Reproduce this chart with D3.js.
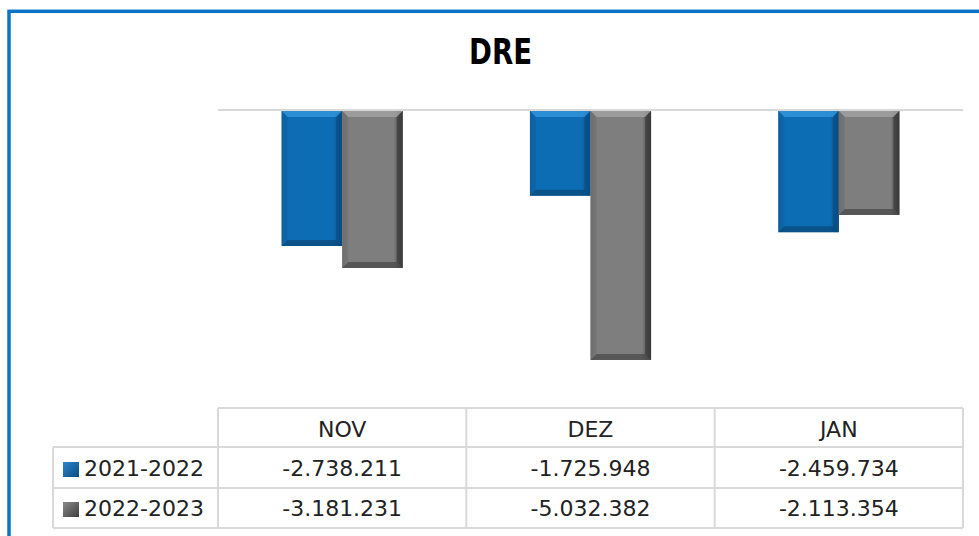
<!DOCTYPE html>
<html>
<head>
<meta charset="utf-8">
<script src="https://cdn.jsdelivr.net/npm/d3@7"></script>
<style>
  html, body { margin: 0; padding: 0; background: #fff; }
  svg { display: block; }
</style>
</head>
<body>
<svg id="chart" width="979" height="536"></svg>
<script>
const categories = ["NOV", "DEZ", "JAN"];
const seriesNames = ["2021-2022", "2022-2023"];
const values2021 = [-2738211, -1725948, -2459734];
const values2022 = [-3181231, -5032382, -2113354];
const yDomain = [-6000000, 0];
const title = "DRE";

const seriesValues = [values2021, values2022];

const svg = d3.select("#chart");
const W = 979, H = 536;

// outer border
svg.append("rect")
  .attr("x", 9).attr("y", 11.3)
  .attr("width", W + 20).attr("height", H + 20)
  .attr("fill", "#fff")
  .attr("stroke", "#0A74C6").attr("stroke-width", 3.5);

// title
svg.append("text")
  .attr("x", 500.5).attr("y", 64)
  .attr("text-anchor", "middle")
  .attr("font-family", "'DejaVu Sans', sans-serif")
  .attr("font-weight", "bold")
  .attr("font-size", 36)
  .attr("textLength", 63)
  .attr("lengthAdjust", "spacingAndGlyphs")
  .attr("fill", "#000")
  .text(title);

const plotLeft = 218, plotRight = 963, plotTop = 110, plotBottom = 408;

const xCol = d3.scaleBand().domain(categories).range([plotLeft, plotRight]).padding(0);
const x1 = d3.scaleBand().domain(seriesNames).range([0, xCol.bandwidth()]).paddingInner(0).paddingOuter(1.05);
const y = d3.scaleLinear().domain(yDomain).range([plotBottom, plotTop]);

// gradients
const defs = svg.append("defs");
const palettes = [
  { main: "#0D6DB4", left: "#0B609F", right: "#0A4C82", top: "#3597DE", bottom: "#0A4A7C", legend: ["#2A86CC", "#0A4C82"] },
  { main: "#7E7E7E", left: "#6E6E6E", right: "#3A3A3A", top: "#A4A4A4", bottom: "#4A4A4A", legend: ["#8A8A8A", "#3E3E3E"] }
];
palettes.forEach((p, i) => {
  const g = defs.append("linearGradient").attr("id", "grad" + i)
    .attr("x1", "0").attr("x2", "1").attr("y1", "0").attr("y2", "0");
  g.append("stop").attr("offset", "0").attr("stop-color", p.left);
  g.append("stop").attr("offset", "0.1").attr("stop-color", p.main);
  g.append("stop").attr("offset", "0.85").attr("stop-color", p.main);
  g.append("stop").attr("offset", "1").attr("stop-color", p.right);
  const lg = defs.append("linearGradient").attr("id", "leg" + i)
    .attr("x1", "0").attr("x2", "1").attr("y1", "0").attr("y2", "1");
  lg.append("stop").attr("offset", "0").attr("stop-color", p.legend[0]);
  lg.append("stop").attr("offset", "1").attr("stop-color", p.legend[1]);
});

// zero gridline
svg.append("line")
  .attr("x1", plotLeft).attr("x2", plotRight)
  .attr("y1", y(0)).attr("y2", y(0))
  .attr("stroke", "#D9D9D9").attr("stroke-width", 2);

// bars
const barData = [];
categories.forEach((c, ci) => {
  seriesNames.forEach((s, si) => {
    barData.push({ cat: c, series: s, si: si, value: seriesValues[si][ci] });
  });
});

const bars = svg.append("g").selectAll("g.bar").data(barData).join("g").attr("class", "bar");
bars.each(function(d) {
  const g = d3.select(this);
  const x = xCol(d.cat) + x1(d.series);
  const w = x1.bandwidth();
  const y0 = y(0) + 1;
  const yb = y(d.value);
  const p = palettes[d.si];
  const b = 6;
  g.append("rect")
    .attr("x", x).attr("y", y0)
    .attr("width", w).attr("height", yb - y0)
    .attr("fill", `url(#grad${d.si})`);
  // top bevel
  g.append("path")
    .attr("d", `M${x},${y0}L${x + w},${y0}L${x + w - b},${y0 + b}L${x + b},${y0 + b}Z`)
    .attr("fill", p.top).attr("opacity", 0.8);
  // bottom bevel
  g.append("path")
    .attr("d", `M${x},${yb}L${x + w},${yb}L${x + w - b},${yb - b}L${x + b},${yb - b}Z`)
    .attr("fill", p.bottom).attr("opacity", 0.75);
  // right bevel
  g.append("path")
    .attr("d", `M${x + w},${y0}L${x + w},${yb}L${x + w - b},${yb - b}L${x + w - b},${y0 + b}Z`)
    .attr("fill", p.right).attr("opacity", 0.7);
  // left bevel
  g.append("path")
    .attr("d", `M${x},${y0}L${x},${yb}L${x + b},${yb - b}L${x + b},${y0 + b}Z`)
    .attr("fill", p.left).attr("opacity", 0.5);
});

// data table
const locale = d3.formatLocale({ decimal: ",", thousands: ".", grouping: [3], currency: ["", ""], minus: "-" });
const fmt = locale.format(",d");

const rowTops = [408, 447, 488, 528];
const labelLeft = 53;
const gridColor = "#D9D9D9";
const tbl = svg.append("g");
const fontFam = "'DejaVu Sans', sans-serif";
const textColor = "#222";

// horizontal lines
tbl.append("line").attr("x1", plotLeft).attr("x2", plotRight).attr("y1", rowTops[0]).attr("y2", rowTops[0])
  .attr("stroke", gridColor).attr("stroke-width", 2);
[1, 2, 3].forEach(i => {
  tbl.append("line").attr("x1", labelLeft).attr("x2", plotRight).attr("y1", rowTops[i]).attr("y2", rowTops[i])
    .attr("stroke", gridColor).attr("stroke-width", 2);
});
// vertical lines
tbl.append("line").attr("x1", labelLeft).attr("x2", labelLeft).attr("y1", rowTops[1]).attr("y2", rowTops[3])
  .attr("stroke", gridColor).attr("stroke-width", 2);
categories.forEach(c => {
  tbl.append("line").attr("x1", xCol(c)).attr("x2", xCol(c)).attr("y1", rowTops[0]).attr("y2", rowTops[3])
    .attr("stroke", gridColor).attr("stroke-width", 2);
});
tbl.append("line").attr("x1", plotRight).attr("x2", plotRight).attr("y1", rowTops[0]).attr("y2", rowTops[3])
  .attr("stroke", gridColor).attr("stroke-width", 2);

// header labels
categories.forEach(c => {
  tbl.append("text")
    .attr("x", xCol(c) + xCol.bandwidth() / 2).attr("y", 437)
    .attr("text-anchor", "middle")
    .attr("font-family", fontFam).attr("font-size", 22).attr("fill", textColor)
    .text(c);
});

const rowBaselines = [476, 516];
seriesNames.forEach((s, si) => {
  const rb = rowBaselines[si];
  tbl.append("rect")
    .attr("x", 63).attr("y", rb - 14).attr("width", 16).attr("height", 15)
    .attr("fill", `url(#leg${si})`);
  tbl.append("text")
    .attr("x", 84).attr("y", rb)
    .attr("font-family", fontFam).attr("font-size", 22).attr("fill", textColor)
    .text(s);
  categories.forEach((c, ci) => {
    tbl.append("text")
      .attr("x", xCol(c) + xCol.bandwidth() / 2).attr("y", rb)
      .attr("text-anchor", "middle")
      .attr("font-family", fontFam).attr("font-size", 22).attr("fill", textColor)
      .text(fmt(seriesValues[si][ci]));
  });
});
</script>
</body>
</html>
